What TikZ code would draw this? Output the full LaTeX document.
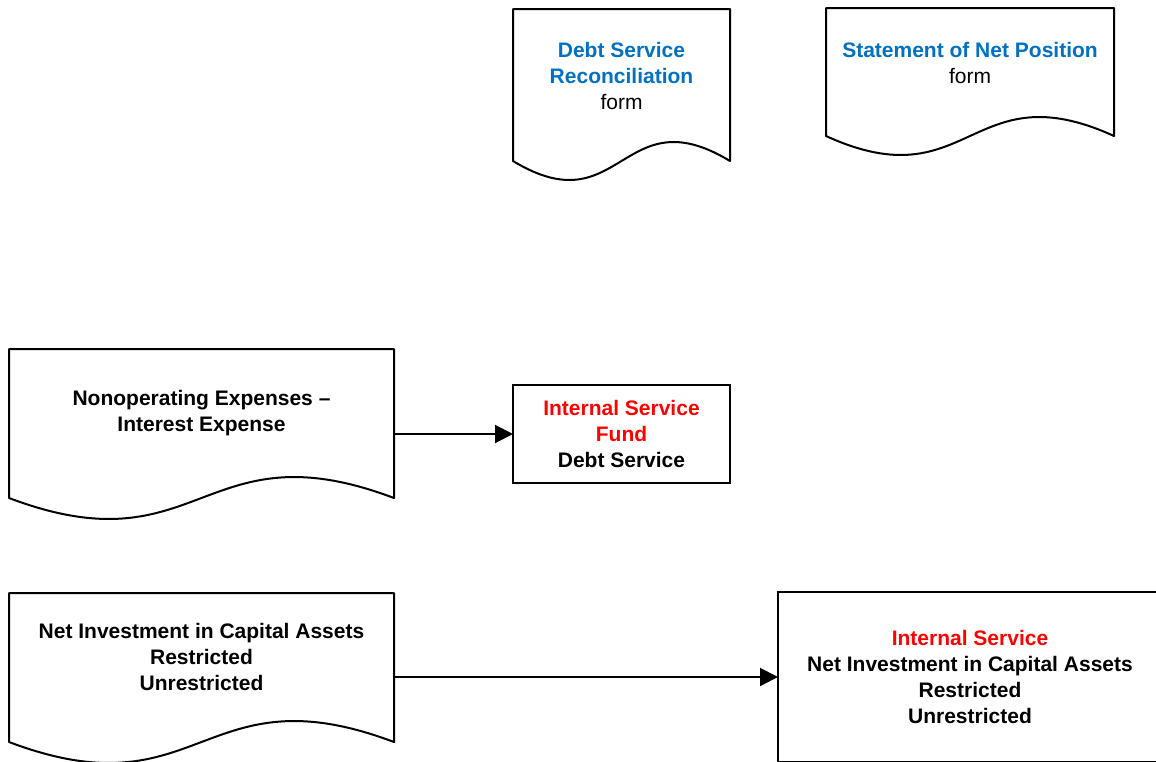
\documentclass[tikz,border=0pt]{standalone}
\usepackage{fontspec}
\setmainfont{Liberation Sans}
\usetikzlibrary{positioning, calc, arrows.meta}

\definecolor{formblue}{RGB}{0,112,192}
\definecolor{fundred}{RGB}{255,0,0}

\tikzset{
  paper/.style={minimum width=#1, inner sep=0pt, outer sep=0pt, align=center},
  outline/.style={line width=2pt, line join=round},
  fundbox/.style={draw, line width=2pt, inner sep=0pt, outer sep=0pt, align=center},
  flow/.style={line width=2pt, -{Triangle[length=18pt, width=18pt]}}
}

% outline of a paper sheet: node name, wave height, width
\newcommand{\paperedge}[3]{%
  \draw[outline] ($(#1.south west)+(0,#2)$) -- (#1.north west) -- (#1.north east)
    -- ($(#1.south east)+(0,#2)$)
    .. controls +(-#3/2,-3.46*#2) and +(#3/2,3.46*#2) .. ($(#1.south west)+(0,#2)$) -- cycle;}

\begin{document}
\begin{tikzpicture}[x=1pt, y=-1pt, font=\fontsize{21}{26}\selectfont\bfseries]
  \useasboundingbox (0,0) rectangle (1156,761);

  % forms
  \node[paper=217pt, minimum height=133pt] (dsr) at (621.5,75.5)
    {\textcolor{formblue}{Debt Service}\\ \textcolor{formblue}{Reconciliation}\\ \mdseries form};
  \paperedge{dsr}{19}{217}
  \node[paper=288pt, minimum height=109pt] (snp) at (970,62.5)
    {\textcolor{formblue}{Statement of Net Position}\\ \mdseries form};
  \paperedge{snp}{19}{288}

  % debt service
  \node[paper=385pt, minimum height=128pt] (nonop) at (201.5,413)
    {Nonoperating Expenses –\\ Interest Expense};
  \paperedge{nonop}{21}{385}
  \node[fundbox, minimum width=217pt, minimum height=98pt] (fund) at (621.5,434)
    {\textcolor{fundred}{Internal Service}\\ \textcolor{fundred}{Fund}\\ Debt Service};

  % net position
  \node[paper=385pt, minimum height=128pt] (netinv) at (201.5,657)
    {Net Investment in Capital Assets\\ Restricted\\ Unrestricted};
  \paperedge{netinv}{21}{385}
  \node[fundbox, minimum width=384pt, minimum height=170pt] (isnet) at (970,677)
    {\textcolor{fundred}{Internal Service}\\ Net Investment in Capital Assets\\ Restricted\\ Unrestricted};

  \draw[flow] (nonop.east |- fund.west) -- (fund.west);
  \draw[flow] (netinv.east |- isnet.west) -- (isnet.west);
\end{tikzpicture}
\end{document}
